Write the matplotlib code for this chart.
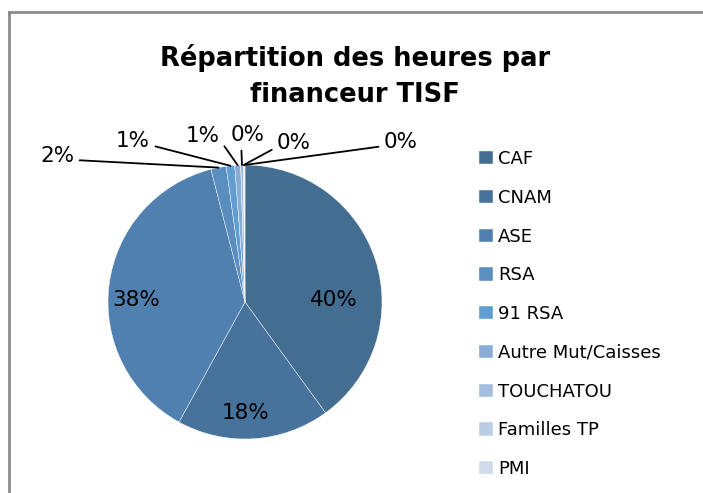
import numpy as np
import matplotlib.pyplot as plt
from matplotlib.lines import Line2D

financeurs = ['CAF', 'CNAM', 'ASE', 'RSA', '91 RSA', 'Autre Mut/Caisses',
              'TOUCHATOU', 'Familles TP', 'PMI']
heures = [40.0, 18.0, 38.0, 1.8, 1.0, 0.7, 0.3, 0.1, 0.1]
couleurs = ['#436d91', '#46729c', '#4f80b0', '#5a8ebe', '#5f9dd3',
            '#88acd4', '#a3bedf', '#bacde5', '#d0dcec']

W, H = 703, 493
fig = plt.figure(figsize=(W / 100, H / 100), dpi=100)
plt.rcParams['font.family'] = 'DejaVu Sans'

# chart border (top and left only)
fig.add_artist(Line2D([9 / W, 9 / W], [0, 1 - 12 / H], transform=fig.transFigure,
                      color='#8c8c8c', lw=2))
fig.add_artist(Line2D([9 / W, 1], [1 - 12 / H, 1 - 12 / H], transform=fig.transFigure,
                      color='#8c8c8c', lw=2))

fig.text(355 / W, 1 - 76 / H, 'Répartition des heures par\nfinanceur TISF',
         ha='center', va='center', fontsize=18.5, fontweight='bold', linespacing=1.5)

cx, cy, r = 245, 302, 137
ax = fig.add_axes([(cx - r) / W, (H - cy - r) / H, 2 * r / W, 2 * r / H])
wedges, _ = ax.pie(heures, colors=couleurs, startangle=90, counterclock=False,
                   radius=1, wedgeprops=dict(edgecolor='white', linewidth=0.3))
ax.set_xlim(-1, 1)
ax.set_ylim(-1, 1)
ax.axis('off')

total = sum(heures)
pcts = ['%d%%' % round(v / total * 100) for v in heures]

# inside labels (pixel positions, top-left origin)
inside = {0: (334, 300), 1: (246, 413), 2: (136, 300)}
for i, (x, y) in inside.items():
    fig.text(x / W, 1 - y / H, pcts[i], ha='center', va='center', fontsize=15.5)

# outside labels with leader lines
outside = {3: (57, 156, 'r'), 4: (133, 141, 'r'), 5: (203, 136, 'r'),
           6: (248, 135, 'b'), 7: (294, 143, 'l'), 8: (401, 142, 'l')}
relpos = {'r': (1, 0.3), 'l': (0, 0.3), 'b': (0.3, 0)}
for i, (x, y, side) in outside.items():
    w = wedges[i]
    ang = np.deg2rad((w.theta1 + w.theta2) / 2)
    ax.annotate(pcts[i], xy=(np.cos(ang), np.sin(ang)), xycoords='data',
                xytext=(x, H - y), textcoords='figure pixels',
                ha='center', va='center', fontsize=15.5, annotation_clip=False,
                arrowprops=dict(arrowstyle='-', color='black', lw=1.3,
                                shrinkA=2, shrinkB=0, relpos=relpos[side]))

fig.legend(wedges, financeurs, loc='upper left',
           bbox_to_anchor=(479 / W, 1 - 150 / H), frameon=False,
           fontsize=13, labelspacing=1.15, handlelength=0.75, handleheight=0.75,
           handletextpad=0.3, borderpad=0, borderaxespad=0)

fig.savefig('out.png', dpi=100)
